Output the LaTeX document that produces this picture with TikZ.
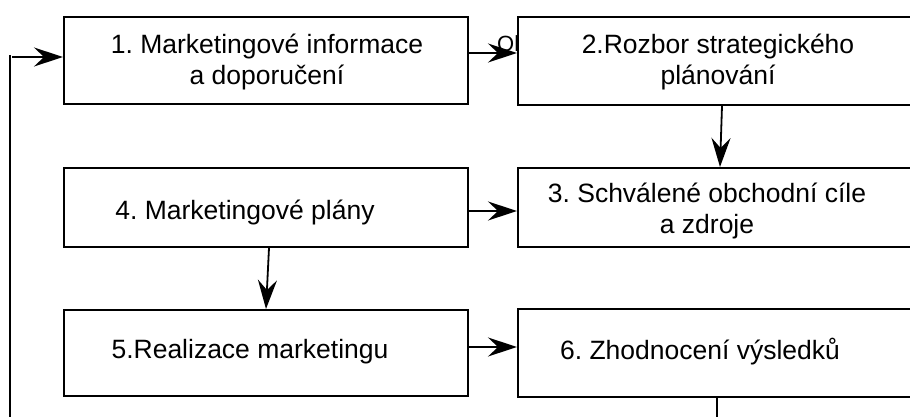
\documentclass[tikz,border=0pt]{standalone}
\usepackage{fontspec}
\setmainfont{Liberation Sans}
\usetikzlibrary{arrows.meta}
\frenchspacing
\begin{document}
\begin{tikzpicture}[x=1pt,y=-1pt,
  box/.style={draw,line width=2pt,fill=white,rectangle,inner sep=0pt},
  txt/.style={font=\fontsize{26.5}{31}\selectfont,align=center,inner sep=0pt},
  arr/.style={line width=1.8pt,-{Stealth[length=29pt,width=19pt,inset=10pt]}},
  ln/.style={line width=2pt}]
\useasboundingbox (0,0) rectangle (910,417);
\node[inner sep=0pt,font=\fontsize{22}{22}\selectfont,anchor=west] (stray) at (497,44) {Ol};
\node[box,minimum width=404pt,minimum height=87pt] (b1) at (266,60.5) {};
\node[box,minimum width=400pt,minimum height=88pt] (b2) at (718,61) {};
\node[box,minimum width=400pt,minimum height=79pt] (b3) at (718,207.5) {};
\node[box,minimum width=404pt,minimum height=79pt] (b4) at (266,207.5) {};
\node[box,minimum width=404pt,minimum height=86pt] (b5) at (266,353) {};
\node[box,minimum width=400pt,minimum height=88pt] (b6) at (718,353) {};
\node[txt] (t1) at (267,62) {1. Marketingové informace\\a doporučení};
\node[txt] (t2) at (718,62) {2.Rozbor strategického\\plánování};
\node[txt] (t3) at (707,211) {3. Schválené obchodní cíle\\a zdroje};
\node[txt] (t4) at (245,212) {4. Marketingové plány};
\node[txt] (t5) at (250,352) {5.Realizace marketingu};
\node[txt] (t6) at (700,352) {6. Zhodnocení výsledků};
\coordinate (bl) at (10,417);
\coordinate (br) at (717,417);
\draw[arr] (b1.east |- 0,53) -- (b2.west |- 0,53);
\draw[arr] (b2.south -| 722,0) -- (b3.north -| 720,0);
\draw[arr] (b4.east |- 0,211) -- (b3.west |- 0,211);
\draw[arr] (b4.south -| 269,0) -- (b5.north -| 266,0);
\draw[arr] (b5.east |- 0,347) -- (b6.west |- 0,347);
\draw[ln] (b6.south -| br) -- (br);
\draw[ln] (bl) -- (10,55);
\draw[arr] (12,57) -- (b1.west |- 0,57);
\end{tikzpicture}
\end{document}
